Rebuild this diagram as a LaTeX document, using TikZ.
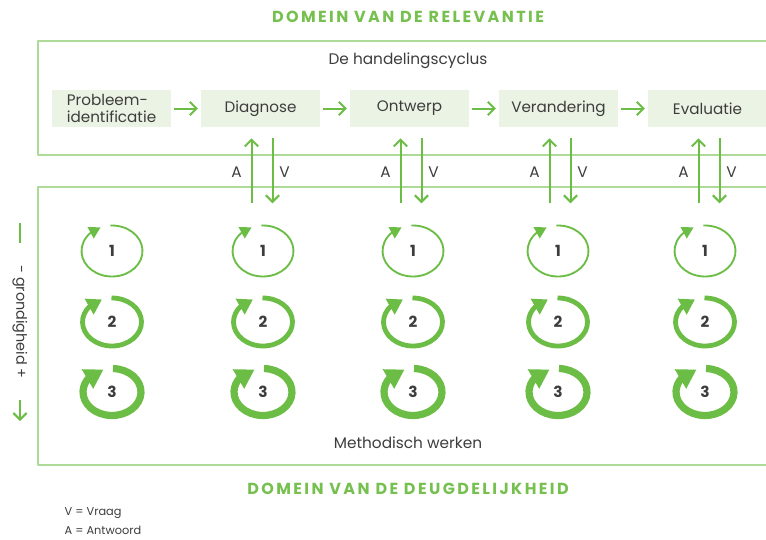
\documentclass[tikz,border=0pt]{standalone}
\usepackage{fontspec}
\setmainfont{Poppins}
\usetikzlibrary{arrows.meta,bending,positioning,calc}
\definecolor{domgreen}{HTML}{76C04F}
\definecolor{framegreen}{HTML}{AEDA98}
\definecolor{arrowgreen}{HTML}{6CBD45}
\definecolor{stagefill}{HTML}{EBF3E4}
\definecolor{txtgray}{HTML}{3D3D3D}
\begin{document}
\begin{tikzpicture}[x=0.75pt,y=-0.75pt,line cap=butt,line join=round,
    stagebox/.style={fill=stagefill,minimum width=89.6pt,minimum height=27.75pt,inner sep=0pt,text=txtgray,font=\fontsize{11.4}{12.5}\selectfont},
    flowarrow/.style={draw=arrowgreen,line width=1.5pt,-{Straight Barb[length=5pt,width=10pt]}},
    frame/.style={draw=framegreen,line width=1.2pt},
    domtitle/.style={text=domgreen,font=\fontsize{12}{13}\selectfont\bfseries\addfontfeatures{LetterSpace=15}},
    plain/.style={text=txtgray,font=\fontsize{11.5}{12.5}\selectfont},
    cyclenum/.style={text=txtgray,font=\fontsize{11.5}{12}\selectfont\bfseries},
    node distance=21.75pt]
\useasboundingbox (0,0) rectangle (766,539);
% kaders
\draw[frame] (766,41) -| (38,155) -- (766,155);
\draw[frame] (766,187) -| (38,465) -- (766,465);
\node[domtitle] (reltitle) at (408,17) {DOMEIN VAN DE RELEVANTIE};
\node[domtitle] (deugtitle) at (408,489) {DOMEIN VAN DE DEUGDELIJKHEID};
\node[plain] (cyclus) at (408,61) {De handelingscyclus};
\node[plain] (methodisch) at (408,443) {Methodisch werken};
% handelingscyclus
\node[stagebox,align=left] (prob) at (111.5,108.5) {Probleem-\\identificatie};
\node[stagebox,right=of prob] (diag) {Diagnose};
\node[stagebox,right=of diag] (ontw) {Ontwerp};
\node[stagebox,right=of ontw] (verand) {Verandering};
\node[stagebox,right=of verand] (eval) {Evaluatie};
\draw[flowarrow,shorten <=2pt,shorten >=2pt] (prob) -- (diag);
\draw[flowarrow,shorten <=2pt,shorten >=2pt] (diag) -- (ontw);
\draw[flowarrow,shorten <=2pt,shorten >=2pt] (ontw) -- (verand);
\draw[flowarrow,shorten <=2pt,shorten >=2pt] (verand) -- (eval);
% vraag en antwoord
\foreach \s in {diag,ontw,verand,eval} {
    \coordinate (\s-abot) at ($(\s.south)+(-9,76)$);
    \coordinate (\s-atop) at ($(\s.south)+(-9,11)$);
    \coordinate (\s-vtop) at ($(\s.south)+(12,11)$);
    \coordinate (\s-vbot) at ($(\s.south)+(12,76)$);
    \draw[flowarrow] (\s-abot) -- (\s-atop);
    \draw[flowarrow] (\s-vtop) -- (\s-vbot);
    \node[plain] (\s-A) at ($(\s.south)+(-24,45)$) {A};
    \node[plain] (\s-V) at ($(\s.south)+(24,45)$) {V};
}
% cycli
\foreach \c/\x in {1/112,2/263,3/413,4/558,5/705} {
    \foreach \r/\y/\lw/\rx/\ry/\sa/\ea/\len/\wid in {1/251/1.4pt/30.5/25.5/267/608/8.5pt/9.5pt,2/322/3.6pt/29.5/24/269/610/11pt/13pt,3/392/5.4pt/29/23.5/272/613/14pt/16pt} {
        \node[cyclenum] (cyc\c-\r) at (\x,\y) {\r};
        \draw[arrowgreen,line width=\lw,-{Triangle[length=\len,width=\wid,flex]}] ($(cyc\c-\r)+({\sa}:{\rx} and {\ry})$) arc[start angle=\sa,end angle=\ea,x radius=\rx,y radius=\ry];
    }
}
% grondigheid
\draw[arrowgreen,line width=1.5pt] (20,223) -- (20,243);
\node[plain,rotate=-90,font=\fontsize{10.8}{12}\selectfont] (grond) at (20,322) {- grondigheid +};
\coordinate (grondtop) at (20,400);
\coordinate (grondbot) at (20,421);
\draw[flowarrow] (grondtop) -- (grondbot);
% legenda
\node[plain,anchor=west,font=\fontsize{8.5}{10}\selectfont] (legv) at (60,513) {V = Vraag};
\node[plain,anchor=west,font=\fontsize{8.5}{10}\selectfont] (lega) at (60,530) {A = Antwoord};
\end{tikzpicture}
\end{document}
